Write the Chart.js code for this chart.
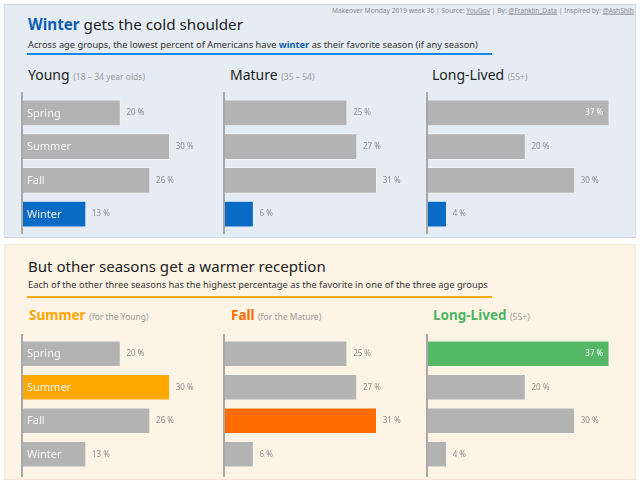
<!DOCTYPE html>
<html>
<head>
<meta charset="utf-8">
<script src="https://cdn.jsdelivr.net/npm/chart.js@4"></script>
<style>
  html,body{margin:0;padding:0;background:#fff;width:640px;height:483px;overflow:hidden;font-family:"Noto Sans","Open Sans",sans-serif;}
  .panel{position:absolute;box-sizing:border-box;}
  #p1{left:4px;top:4px;width:632px;height:234px;background:#e5ecf4;border:1px solid #cfd9e6;}
  #p2{left:4px;top:244px;width:632px;height:236px;background:#fef4e5;border:1px solid #fde2d8;}
  .t{position:absolute;white-space:nowrap;line-height:1;transform:translateY(-50%);}
  .line{position:absolute;height:2px;}
  canvas{position:absolute;}
  .sub{color:#9a9a9a;}
  a{color:inherit;}
</style>
</head>
<body>
<div class="panel" id="p1"></div>
<div class="panel" id="p2"></div>

<div class="t" id="credits" style="left:332px;top:11px;font-size:8px;color:#8a8a8a;">Makeover Monday 2019 week 36 | Source: <u>YouGov</u> | By: <u>@Franklin_Data</u> | Inspired by: <u>@AshShih</u></div>

<div class="t" id="title1" style="left:28px;top:25px;font-size:20px;color:#222;"><b style="color:#0b5db3;">Winter</b> gets the cold shoulder</div>
<div class="t" id="sub1" style="left:28px;top:45px;font-size:11px;color:#333;">Across age groups, the lowest percent of Americans have <b style="color:#0b5db3;">winter</b> as their favorite season (if any season)</div>
<div class="line" style="left:27px;top:53px;width:465px;background:#1a86e6;"></div>

<div class="t" style="left:28px;top:75px;font-size:14px;color:#222;">Young <span class="sub" style="font-size:8.5px;">(18 – 34 year olds)</span></div>
<div class="t" style="left:230px;top:75px;font-size:14px;color:#222;">Mature <span class="sub" style="font-size:8.5px;">(35 – 54)</span></div>
<div class="t" style="left:432px;top:75px;font-size:14px;color:#222;">Long-Lived <span class="sub" style="font-size:8.5px;">(55+)</span></div>

<div class="t" id="title2" style="left:28px;top:267px;font-size:18px;color:#222;">But other seasons get a warmer reception</div>
<div class="t" id="sub2" style="left:28px;top:285px;font-size:10.5px;color:#333;">Each of the other three seasons has the highest percentage as the favorite in one of the three age groups</div>
<div class="line" style="left:27px;top:296px;width:465px;background:#ffaa00;"></div>

<div class="t" style="left:29px;top:316px;font-size:13.5px;color:#ffa500;font-weight:bold;">Summer <span class="sub" style="font-size:8.5px;font-weight:normal;">(for the Young)</span></div>
<div class="t" style="left:231px;top:316px;font-size:13.5px;color:#ff6a00;font-weight:bold;">Fall <span class="sub" style="font-size:8.5px;font-weight:normal;">(for the Mature)</span></div>
<div class="t" style="left:433px;top:316px;font-size:13.5px;color:#4db463;font-weight:bold;">Long-Lived <span class="sub" style="font-size:8.5px;font-weight:normal;">(55+)</span></div>

<canvas id="c1" width="206" height="142" style="left:20px;top:92px;"></canvas>
<canvas id="c2" width="206" height="142" style="left:222px;top:92px;"></canvas>
<canvas id="c3" width="206" height="142" style="left:425px;top:92px;"></canvas>
<canvas id="c4" width="206" height="143" style="left:20px;top:334px;"></canvas>
<canvas id="c5" width="206" height="143" style="left:222px;top:334px;"></canvas>
<canvas id="c6" width="206" height="143" style="left:425px;top:334px;"></canvas>

<script>
// ---- data ----
const seasons = ['Spring', 'Summer', 'Fall', 'Winter'];
const young = [20, 30, 26, 13];
const mature = [25, 27, 31, 6];
const longLived = [37, 20, 30, 4];
const maxPct = 40;

const GREY = '#b3b3b3';

function colorsFor(n, idx, c) {
  const a = [];
  for (let i = 0; i < n; i++) a.push(i === idx ? c : GREY);
  return a;
}

const labelPlugin = {
  id: 'barLabels',
  afterDatasetsDraw(chart, args, opts) {
    const ctx = chart.ctx;
    const meta = chart.getDatasetMeta(0);
    const vals = chart.data.datasets[0].data;
    ctx.save();
    meta.data.forEach((bar, i) => {
      const txt = vals[i] + ' %';
      ctx.textBaseline = 'middle';
      ctx.font = '8px "Noto Sans", sans-serif';
      if (opts.insideIdx === i) {
        ctx.fillStyle = '#ffffff';
        ctx.textAlign = 'right';
        ctx.fillText(txt, bar.x - 6, bar.y);
      } else {
        ctx.fillStyle = '#8c8c8c';
        ctx.textAlign = 'left';
        ctx.fillText(txt, bar.x + 6, bar.y);
      }
      if (opts.showCats) {
        ctx.font = '11px "Noto Sans", sans-serif';
        ctx.textAlign = 'left';
        ctx.fillStyle = '#f4f4f4';
        ctx.fillText(chart.data.labels[i], chart.chartArea.left + 5, bar.y + 0.5);
      }
    });
    // vertical axis line
    ctx.strokeStyle = '#a8a8a8';
    ctx.lineWidth = 2;
    ctx.beginPath();
    ctx.moveTo(chart.chartArea.left, 0);
    ctx.lineTo(chart.chartArea.left, chart.height);
    ctx.stroke();
    ctx.restore();
  }
};

function makeChart(id, values, colors, opts, pad) {
  new Chart(document.getElementById(id), {
    type: 'bar',
    data: {
      labels: seasons,
      datasets: [{
        data: values,
        backgroundColor: colors,
        borderColor: 'rgba(255,255,255,0.35)',
        borderWidth: 1,
        barThickness: 26
      }]
    },
    options: {
      indexAxis: 'y',
      responsive: false,
      animation: false,
      events: [],
      layout: { padding: { top: pad[0], bottom: pad[1], left: 2, right: 7 } },
      scales: {
        x: { min: 0, max: maxPct, display: false },
        y: { display: false }
      },
      plugins: { legend: { display: false }, tooltip: { enabled: false }, barLabels: opts }
    },
    plugins: [labelPlugin]
  });
}

const topPad = [4, 3], botPad = [3, 6];
makeChart('c1', young, colorsFor(4, 3, '#0a6bc5'), { showCats: true, insideIdx: -1 }, topPad);
makeChart('c2', mature, colorsFor(4, 3, '#0a6bc5'), { showCats: false, insideIdx: -1 }, topPad);
makeChart('c3', longLived, colorsFor(4, 3, '#0a6bc5'), { showCats: false, insideIdx: 0 }, topPad);
makeChart('c4', young, colorsFor(4, 1, '#ffa800'), { showCats: true, insideIdx: -1 }, botPad);
makeChart('c5', mature, colorsFor(4, 2, '#ff6d00'), { showCats: false, insideIdx: -1 }, botPad);
makeChart('c6', longLived, colorsFor(4, 0, '#55b866'), { showCats: false, insideIdx: 0 }, botPad);

// fit long text lines to the reference widths
function fit(id, w) {
  const el = document.getElementById(id);
  const fs = parseFloat(el.style.fontSize);
  const cur = el.getBoundingClientRect().width;
  if (cur > 0) el.style.fontSize = (fs * w / cur) + 'px';
}
fit('credits', 302);
fit('title1', 215);
fit('sub1', 450);
fit('title2', 298);
fit('sub2', 460);
</script>
</body>
</html>
